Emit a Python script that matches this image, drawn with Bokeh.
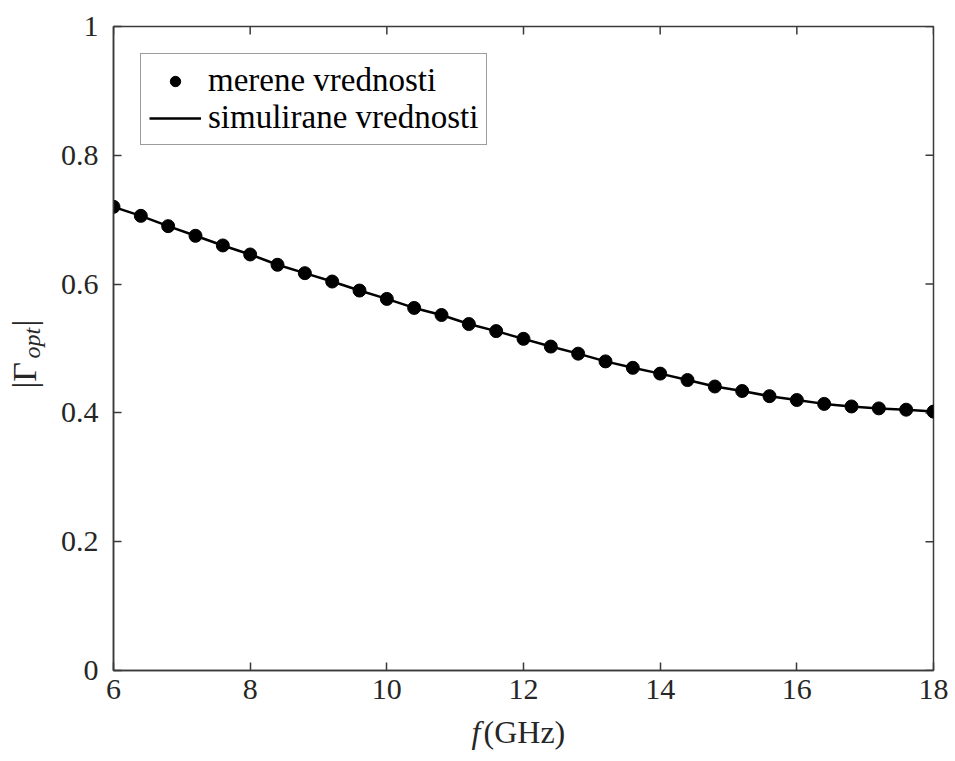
import math
from bokeh.plotting import figure
from bokeh.layouts import row, column
from bokeh.models import (Range1d, LinearAxis, FixedTicker, Label, Legend,
                          LegendItem, CustomJSTickFormatter)
from bokeh.embed import file_html
from bokeh.resources import INLINE

# ---- data -------------------------------------------------------------
freq_ghz = [6.0, 6.4, 6.8, 7.2, 7.6, 8.0, 8.4, 8.8, 9.2, 9.6, 10.0, 10.4,
            10.8, 11.2, 11.6, 12.0, 12.4, 12.8, 13.2, 13.6, 14.0, 14.4,
            14.8, 15.2, 15.6, 16.0, 16.4, 16.8, 17.2, 17.6, 18.0]
gamma_measured = [0.720, 0.706, 0.690, 0.675, 0.660, 0.646, 0.630, 0.617,
                  0.604, 0.590, 0.577, 0.563, 0.552, 0.538, 0.527, 0.515,
                  0.503, 0.492, 0.480, 0.470, 0.461, 0.451, 0.441, 0.434,
                  0.426, 0.420, 0.414, 0.410, 0.407, 0.405, 0.402]
gamma_simulated = [0.720, 0.706, 0.690, 0.675, 0.660, 0.646, 0.630, 0.617,
                   0.604, 0.590, 0.577, 0.563, 0.552, 0.538, 0.527, 0.515,
                   0.503, 0.492, 0.480, 0.470, 0.461, 0.451, 0.441, 0.434,
                   0.426, 0.420, 0.414, 0.410, 0.407, 0.405, 0.402]
x_ticks = [6, 8, 10, 12, 14, 16, 18]
y_ticks = [0, 0.2, 0.4, 0.6, 0.8, 1.0]
legend_labels = ["merene vrednosti", "simulirane vrednosti"]
x_label_parts = ["f", "(GHz)"]
y_label_parts = ["|Γ", "opt", "|"]

# ---- layout -------------------------------------------------------------
TOTAL_W, TOTAL_H = 955, 761
YW = 52                      # strip holding the y-axis title
PW, PH = TOTAL_W - YW, 713   # main plot
XH = TOTAL_H - PH            # strip holding the x-axis title
FL, FR, FT, FB = 113 - YW, 933 - YW, 26, 670

FONT = "Liberation Serif"
INK = "#262626"
FRAME = "#3a3a3a"

p = figure(width=PW, height=PH, output_backend="svg", toolbar_location=None,
           x_range=Range1d(6, 18), y_range=Range1d(0, 1), frame_align=False,
           min_border_left=FL, min_border_right=PW - FR,
           min_border_top=FT, min_border_bottom=PH - FB,
           x_axis_location=None, y_axis_location=None)
p.xgrid.visible = False
p.ygrid.visible = False
p.outline_line_color = FRAME
p.outline_line_width = 1.5
p.background_fill_color = "white"
p.border_fill_color = "white"

def style(ax, standoff):
    ax.axis_line_color = FRAME
    ax.axis_line_width = 1.5
    ax.major_tick_line_color = FRAME
    ax.major_tick_line_width = 1.5
    ax.major_tick_in = 8
    ax.major_tick_out = 0
    ax.minor_tick_line_color = None
    ax.major_label_text_font = FONT
    ax.major_label_text_color = INK
    ax.major_label_text_font_size = "30px"
    ax.major_label_standoff = standoff

xb = LinearAxis(ticker=FixedTicker(ticks=x_ticks))
style(xb, 9)
p.add_layout(xb, "below")
yl = LinearAxis(ticker=FixedTicker(ticks=y_ticks),
                formatter=CustomJSTickFormatter(
                    code="return String(Math.round(tick*10)/10);"))
style(yl, 15)
p.add_layout(yl, "left")

# inward ticks on the top and right edges of the box
p.ray(x=x_ticks, y=[y_ticks[-1]] * len(x_ticks), length=8, angle=-math.pi / 2,
      length_units="screen", line_color=FRAME, line_width=1.5)
p.ray(x=[x_ticks[-1]] * len(y_ticks), y=y_ticks, length=8, angle=math.pi,
      length_units="screen", line_color=FRAME, line_width=1.5)

line = p.line(freq_ghz, gamma_simulated, line_width=2.5, line_color="black")
pts = p.scatter(freq_ghz, gamma_measured, size=13, fill_color="black",
                line_color="black")

legend = Legend(items=[LegendItem(label=legend_labels[0], renderers=[pts]),
                       LegendItem(label=legend_labels[1], renderers=[line])],
                location="top_left", margin=27,
                border_line_color=FRAME, border_line_width=1,
                background_fill_color="white", background_fill_alpha=1,
                label_text_font=FONT, label_text_font_size="33px",
                label_text_color="black", glyph_width=52, glyph_height=26,
                label_standoff=7, spacing=0, padding=8, label_height=26)
p.add_layout(legend)

def strip(w, h):
    f = figure(width=w, height=h, output_backend="svg", toolbar_location=None,
               x_range=Range1d(0, w), y_range=Range1d(0, h), title=None,
               frame_align=False,
               min_border=0, min_border_left=0, min_border_right=0,
               min_border_top=0, min_border_bottom=0,
               x_axis_location=None, y_axis_location=None)
    f.xgrid.visible = False
    f.ygrid.visible = False
    f.outline_line_color = None
    f.border_fill_color = "white"
    f.background_fill_color = "white"
    return f

# ---- y title strip (data units = pixels, origin bottom-left) -------------
ys = strip(YW, TOTAL_H)
ang = math.pi / 2
ys.add_layout(Label(x=24, y=TOTAL_H - 388, text=y_label_parts[0],
                    text_font=FONT, text_font_size="34px", text_color=INK,
                    angle=ang, text_align="left", text_baseline="alphabetic"))
ys.add_layout(Label(x=31, y=TOTAL_H - 358, text=y_label_parts[1],
                    text_font=FONT, text_font_style="italic",
                    text_font_size="24px", text_color=INK, angle=ang,
                    text_align="left", text_baseline="alphabetic"))
ys.add_layout(Label(x=24, y=TOTAL_H - 326, text=y_label_parts[2],
                    text_font=FONT, text_font_size="34px", text_color=INK,
                    angle=ang, text_align="left", text_baseline="alphabetic"))

# ---- x title strip ---------------------------------------------------------
xs = strip(PW, XH)
xs.add_layout(Label(x=471 - YW, y=TOTAL_H - 731, text=x_label_parts[0],
                    text_font=FONT, text_font_style="italic",
                    text_font_size="32px", text_color=INK, text_align="left",
                    text_baseline="alphabetic"))
xs.add_layout(Label(x=483 - YW, y=TOTAL_H - 731, text=x_label_parts[1],
                    text_font=FONT, text_font_size="32px", text_color=INK,
                    text_align="left", text_baseline="alphabetic"))

layout = row(ys, column(p, xs))
open("out.html", "w").write(file_html(layout, INLINE))
